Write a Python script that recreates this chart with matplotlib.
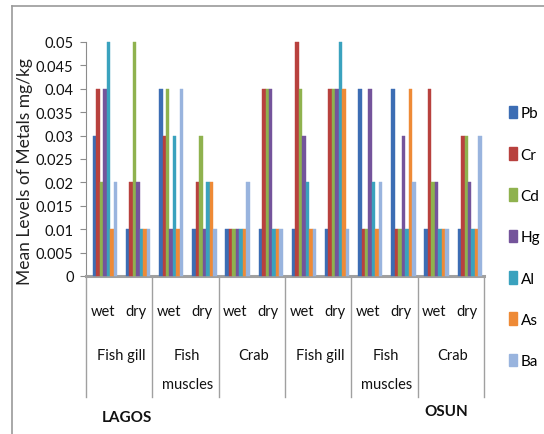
import matplotlib
matplotlib.use("Agg")
import matplotlib.pyplot as plt
import matplotlib.transforms as mtrans
from matplotlib.patches import Patch
from matplotlib.lines import Line2D

plt.rcParams["font.family"] = ["Lato", "DejaVu Sans"]

metals = ["Pb", "Cr", "Cd", "Hg", "Al", "As", "Ba"]
colors = ["#3C6DB4", "#B8413E", "#8FB24E", "#74549B", "#3AA2BE", "#EE8A36", "#99B4DE"]

seasons = ["wet", "dry"] * 6
samples = ["Fish gill", "Fish\nmuscles", "Crab"] * 2
states = ["LAGOS", "OSUN"]

# one list per metal, 12 groups: (sample, season) for Lagos then Osun
pb = [0.03, 0.01, 0.04, 0.01, 0.01, 0.01, 0.01, 0.01, 0.04, 0.04, 0.01, 0.01]
cr = [0.04, 0.02, 0.03, 0.02, 0.01, 0.04, 0.05, 0.04, 0.01, 0.01, 0.04, 0.03]
cd = [0.02, 0.05, 0.04, 0.03, 0.01, 0.04, 0.04, 0.04, 0.01, 0.01, 0.02, 0.03]
hg = [0.04, 0.02, 0.01, 0.01, 0.01, 0.04, 0.03, 0.04, 0.04, 0.03, 0.02, 0.02]
al = [0.05, 0.01, 0.03, 0.02, 0.01, 0.01, 0.02, 0.05, 0.02, 0.01, 0.01, 0.01]
as_ = [0.01, 0.01, 0.01, 0.02, 0.01, 0.01, 0.01, 0.04, 0.01, 0.04, 0.01, 0.01]
ba = [0.02, 0.01, 0.04, 0.01, 0.02, 0.01, 0.01, 0.01, 0.02, 0.02, 0.01, 0.03]
series = [pb, cr, cd, hg, al, as_, ba]

W, H = 544, 435
fig = plt.figure(figsize=(W / 100, H / 100), dpi=100)


def fy(py):
    return 1 - py / H


ax = fig.add_axes([86 / W, fy(277), (484 - 86) / W, fy(43) - fy(277)])

n = len(seasons)
bw = 0.105
for k, (vals, c) in enumerate(zip(series, colors)):
    xs = [i + 0.5 + (k - 3) * bw + 0.07 for i in range(n)]
    ax.bar(xs, vals, width=bw, color=c, edgecolor=c, linewidth=0.3,
           clip_on=False, zorder=3)

ax.set_xlim(0, n)
ax.set_ylim(0, 0.05)
ax.set_yticks([i * 0.005 for i in range(11)])
ax.set_yticklabels(["0", "0.005", "0.01", "0.015", "0.02", "0.025",
                    "0.03", "0.035", "0.04", "0.045", "0.05"])
ax.set_xticks([])
ax.tick_params(axis="y", labelsize=10.5, length=4, color="#8C8C8C",
               labelcolor="#111111", pad=5)
for s in ["top", "right"]:
    ax.spines[s].set_visible(False)
ax.spines["left"].set_color("#8C8C8C")
ax.spines["bottom"].set_color("#A0A0A0")
ax.spines["bottom"].set_linewidth(2.2)
ax.set_ylabel("Mean Levels of Metals mg/kg", fontsize=12.5, color="#222222")
ax.yaxis.set_label_coords(-0.133, 0.45)

# category labels below the axis
tr = mtrans.blended_transform_factory(ax.transData, fig.transFigure)
for i, s in enumerate(seasons):
    ax.text(i + 0.5, fy(312), s, transform=tr, ha="center", va="center",
            fontsize=10.5, color="#111111")
for j, name in enumerate(samples):
    for li, line in enumerate(name.split("\n")):
        ax.text(2 * j + 1.05, fy(356 + 29 * li), line, transform=tr,
                ha="center", va="center", fontsize=10.5, color="#111111")
for b in range(0, n + 1, 2):
    ax.add_line(Line2D([b, b], [fy(278), fy(398)], transform=tr,
                       color="#A0A0A0", lw=1, clip_on=False))

fig.text(127 / W, fy(418), states[0], ha="center", va="center",
         fontsize=11, fontweight="bold", color="#111111")
fig.text(446 / W, fy(412), states[1], ha="center", va="center",
         fontsize=11, fontweight="bold", color="#111111")

handles = [Patch(facecolor=c, edgecolor=c) for c in colors]
fig.legend(handles, metals, loc="center left",
           bbox_to_anchor=(509 / W, fy(238)), frameon=False, fontsize=11,
           handlelength=0.5, handleheight=0.9, handletextpad=0.25,
           labelspacing=1.75, borderpad=0, borderaxespad=0)

# chart frame
fig.add_artist(Line2D([12 / W, 1], [fy(7), fy(7)], color="#9A9A9A", lw=1.2))
fig.add_artist(Line2D([12 / W, 12 / W], [fy(7), 0], color="#9A9A9A", lw=1.2))

fig.savefig("out.png", dpi=100)
